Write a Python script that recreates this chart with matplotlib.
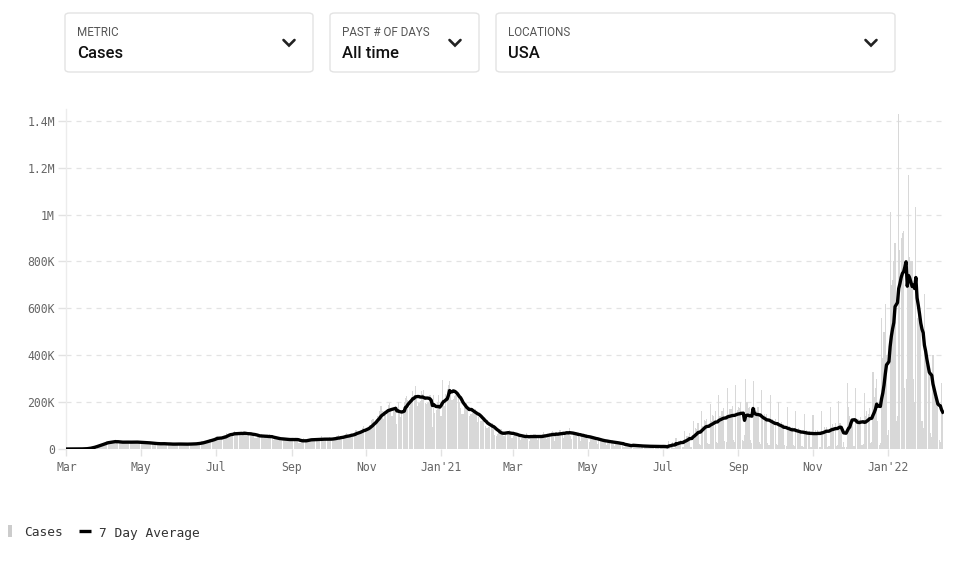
import matplotlib
matplotlib.use("Agg")
import matplotlib.pyplot as plt
import matplotlib.dates as mdates
from matplotlib.patches import FancyBboxPatch, Rectangle
from matplotlib.lines import Line2D
import numpy as np
import pandas as pd

# daily reported cases (thousands), one row per week, Sun..Sat, starting Mar 1 2020
start_date = "2020-03-01"
daily_cases_k = [
    0, 0, 0, 0, 0.1, 0.1, 0.1,
    0.1, 0.2, 0.3, 0.4, 0.5, 0.6, 0.8,
    1, 1.5, 2, 3, 4.5, 5.5, 7,
    9, 10, 11, 13, 17, 19, 20,
    20, 21, 25, 26, 29, 32, 34,
    26, 30, 31, 32, 35, 33, 30,
    27, 26, 27, 30, 31, 34, 30,
    27, 26, 26, 29, 32, 35, 34,
    27, 24, 25, 27, 30, 34, 30,
    25, 23, 24, 25, 29, 28, 26,
    20, 19, 22, 21, 27, 25, 24,
    19, 20, 21, 22, 24, 24, 22,
    19, 18, 18, 21, 23, 25, 23,
    19, 17, 20, 20, 22, 25, 23,
    17, 18, 20, 22, 23, 26, 25,
    19, 19, 23, 26, 28, 32, 32,
    26, 29, 33, 35, 39, 43, 42,
    38, 40, 44, 50, 54, 52, 45,
    40, 44, 57, 60, 61, 70, 61,
    60, 58, 62, 67, 75, 72, 63,
    62, 60, 64, 70, 72, 76, 66,
    55, 55, 63, 68, 68, 67, 62,
    49, 48, 53, 55, 58, 64, 56,
    46, 50, 51, 54, 53, 63, 54,
    43, 37, 43, 46, 48, 50, 47,
    35, 36, 39, 42, 45, 46, 44,
    32, 34, 41, 41, 43, 48, 42,
    32, 26, 27, 33, 37, 47, 41,
    34, 33, 37, 38, 44, 49, 42,
    35, 36, 40, 39, 44, 54, 47,
    34, 35, 41, 40, 46, 51, 47,
    35, 39, 43, 49, 55, 58, 49,
    45, 43, 50, 59, 63, 68, 57,
    48, 56, 61, 63, 72, 80, 79,
    60, 68, 74, 78, 90, 100, 87,
    77, 84, 92, 103, 122, 127, 126,
    109, 118, 139, 142, 162, 183, 160,
    130, 155, 161, 172, 187, 196, 173,
    140, 165, 170, 183, 108, 200, 150,
    135, 158, 180, 200, 218, 228, 210,
    180, 197, 220, 248, 230, 270, 217,
    185, 195, 206, 247, 235, 250, 198,
    190, 195, 200, 230, 190, 95, 230,
    155, 167, 200, 232, 170, 140, 295,
    210, 185, 235, 255, 275, 290, 255,
    210, 215, 225, 232, 240, 245, 200,
    175, 150, 150, 185, 190, 195, 170,
    140, 150, 150, 155, 165, 170, 145,
    115, 135, 120, 120, 125, 135, 100,
    88, 90, 95, 95, 105, 110, 85,
    60, 55, 65, 70, 70, 85, 70,
    55, 56, 71, 74, 77, 80, 62,
    48, 56, 58, 67, 67, 65, 50,
    40, 45, 55, 57, 60, 68, 44,
    36, 51, 55, 58, 62, 63, 45,
    40, 48, 55, 60, 65, 72, 52,
    42, 59, 62, 70, 72, 77, 55,
    36, 72, 60, 72, 80, 80, 60,
    45, 70, 72, 78, 75, 88, 55,
    41, 65, 62, 71, 68, 74, 50,
    36, 52, 58, 60, 60, 62, 44,
    28, 48, 48, 51, 48, 53, 35,
    22, 37, 36, 41, 40, 43, 28,
    18, 30, 28, 35, 34, 37, 22,
    13, 26, 24, 28, 27, 29, 17,
    9, 8, 18, 20, 18, 20, 10,
    7, 18, 15, 16, 16, 17, 8,
    6, 14, 13, 14, 14, 16, 6,
    5, 13, 12, 12, 13, 13, 5,
    4, 14, 12, 14, 15, 12, 3,
    3, 5, 35, 20, 23, 28, 5,
    4, 45, 27, 35, 34, 40, 7,
    7, 75, 40, 55, 55, 70, 10,
    10, 120, 65, 90, 85, 110, 20,
    15, 160, 100, 125, 120, 130, 25,
    20, 190, 120, 145, 140, 160, 30,
    25, 230, 140, 160, 160, 175, 35,
    28, 260, 150, 170, 170, 185, 40,
    30, 275, 165, 180, 175, 200, 40,
    35, 60, 300, 200, 175, 180, 40,
    25, 290, 160, 175, 160, 180, 30,
    20, 250, 130, 150, 140, 150, 25,
    18, 230, 110, 130, 120, 130, 20,
    15, 200, 95, 115, 100, 105, 15,
    12, 180, 85, 100, 85, 95, 15,
    12, 160, 75, 90, 75, 80, 12,
    10, 150, 70, 80, 70, 75, 10,
    10, 145, 70, 80, 70, 80, 10,
    10, 160, 75, 95, 85, 95, 10,
    12, 180, 95, 105, 95, 110, 12,
    15, 205, 110, 100, 10, 30, 8,
    8, 280, 180, 140, 130, 120, 12,
    12, 260, 130, 130, 125, 135, 15,
    20, 240, 140, 160, 150, 175, 25,
    30, 330, 220, 260, 300, 120, 15,
    25, 560, 390, 500, 620, 400, 60,
    80, 1010, 700, 720, 800, 880, 120,
    140, 1430, 850, 900, 920, 930, 260,
    300, 700, 1170, 820, 800, 800, 300,
    200, 1030, 560, 600, 550, 520, 120,
    90, 660, 380, 360, 350, 330, 70,
    50, 400, 220, 210, 200, 190, 40,
    30, 280, 150,
]

tick_dates = ["2020-03-01", "2020-05-01", "2020-07-01", "2020-09-01", "2020-11-01", "2021-01-01",
              "2021-03-01", "2021-05-01", "2021-07-01", "2021-09-01", "2021-11-01", "2022-01-01"]
tick_labels = ["Mar", "May", "Jul", "Sep", "Nov", "Jan'21",
               "Mar", "May", "Jul", "Sep", "Nov", "Jan'22"]
y_ticks = [0, 200e3, 400e3, 600e3, 800e3, 1e6, 1.2e6, 1.4e6]
y_labels = ["0", "200K", "400K", "600K", "800K", "1M", "1.2M", "1.4M"]

dropdowns = [("METRIC", "Cases"), ("PAST # OF DAYS", "All time"), ("LOCATIONS", "USA")]

df = pd.DataFrame({"date": pd.date_range(start_date, periods=len(daily_cases_k), freq="D"),
                   "cases": np.array(daily_cases_k) * 1000})
df["avg7"] = df["cases"].rolling(7, min_periods=1).mean()

W, H = 966, 563
fig = plt.figure(figsize=(W / 100, H / 100), dpi=100)

def fx(x):
    return x / W

def fy(y):
    return 1 - y / H

mono = "DejaVu Sans Mono"

# chart
ax = fig.add_axes([fx(66), fy(449), fx(944) - fx(66), fy(109) - fy(449)])
ax.bar(df["date"], df["cases"], width=0.9, color="#d8d8d8", linewidth=0, zorder=2)
ax.plot(df["date"], df["avg7"], color="black", lw=2.4, solid_joinstyle="round", zorder=3)

ax.set_xlim(mdates.date2num(pd.Timestamp("2020-03-01")) - 0.4,
            mdates.date2num(pd.Timestamp("2022-02-16")))
ax.set_ylim(0, 1.45e6)
ax.set_xticks([mdates.date2num(pd.Timestamp(d)) for d in tick_dates])
ax.set_xticklabels(tick_labels, fontfamily=mono, fontsize=8.3, color="#666666")
ax.set_yticks(y_ticks)
ax.set_yticklabels(y_labels, fontfamily=mono, fontsize=8.3, color="#666666")
ax.tick_params(axis="x", length=5, width=1, color="#e2e2e2", pad=3.5)
ax.tick_params(axis="y", length=6, width=1, color="#e2e2e2", pad=2)
ax.yaxis.grid(True, linestyle=(0, (4, 4)), color="#e3e3e3", lw=0.9, zorder=0)
for s in ["top", "right", "bottom"]:
    ax.spines[s].set_visible(False)
ax.spines["left"].set_color("#ececec")
ax.spines["left"].set_linewidth(1)

# dropdown boxes
boxes = [(65, 313), (330, 479), (496, 895)]
for (x0, x1), (lab, val) in zip(boxes, dropdowns):
    fig.patches.append(FancyBboxPatch((fx(x0), fy(72)), fx(x1) - fx(x0), fy(13) - fy(72),
                                      boxstyle="round,pad=0,rounding_size=0.005",
                                      transform=fig.transFigure, facecolor="white",
                                      edgecolor="#e3e3e3", lw=1))
    fig.text(fx(x0 + 12), fy(35.5), lab, fontfamily="Roboto", fontsize=8.4, color="#555555",
             va="baseline")
    fig.text(fx(x0 + 12), fy(58), val, fontfamily="Roboto", fontsize=12, fontweight="medium",
             color="#111111", va="baseline")
    cx = x1 - 24
    fig.lines.append(Line2D([fx(cx - 5.5), fx(cx), fx(cx + 5.5)], [fy(40), fy(45.5), fy(40)],
                            transform=fig.transFigure, color="#222222", lw=1.9,
                            solid_capstyle="round", solid_joinstyle="miter"))

# legend
fig.patches.append(Rectangle((fx(8), fy(537)), fx(12) - fx(8), fy(525) - fy(537),
                             transform=fig.transFigure, facecolor="#cccccc", edgecolor="none"))
fig.text(fx(24), fy(536.5), "Cases", fontfamily=mono, fontsize=9.3, color="#333333", va="baseline")
fig.lines.append(Line2D([fx(79), fx(91)], [fy(530.5), fy(530.5)], transform=fig.transFigure,
                        color="black", lw=2.4, solid_capstyle="butt"))
fig.text(fx(99), fy(536.5), "7 Day Average", fontfamily=mono, fontsize=9.3, color="#333333",
         va="baseline")

fig.savefig("out.png", dpi=100)
